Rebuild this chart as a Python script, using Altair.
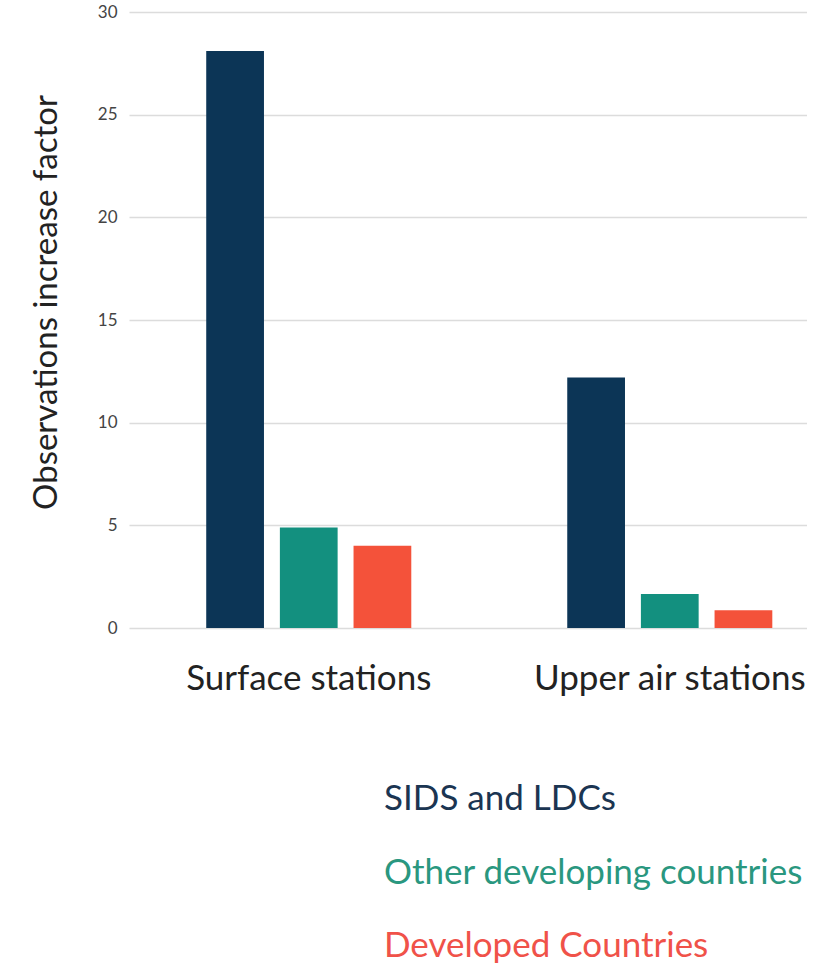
import altair as alt
import pandas as pd

# Categories and series
stations = ["Surface stations", "Upper air stations"]
groups = ["SIDS and LDCs", "Other developing countries", "Developed Countries"]
sids_ldcs = [28.1, 12.2]
other_developing = [4.9, 1.65]
developed = [4.0, 0.87]
y_ticks = [0, 5, 10, 15, 20, 25, 30]

bar_colors = ["#0c3556", "#13907f", "#f4523a"]
text_colors = ["#1b3552", "#2a977f", "#f05249"]

rows = []
for i, st in enumerate(stations):
    for g, vals in zip(groups, [sids_ldcs, other_developing, developed]):
        rows.append({"station": st, "group": g, "value": vals[i]})
df = pd.DataFrame(rows)
legend_df = pd.DataFrame({"group": groups})

FONT = "Lato"

bars = (
    alt.Chart(df)
    .mark_bar()
    .encode(
        x=alt.X(
            "station:N",
            sort=stations,
            title=None,
            scale=alt.Scale(paddingInner=0.432, paddingOuter=0.155, align=0.69),
            axis=alt.Axis(
                labelAngle=0,
                labelFontSize=35,
                labelFont=FONT,
                labelColor="#222222",
                labelPadding=33,
                labelLimit=0,
                domain=False,
                ticks=False,
                grid=False,
            ),
        ),
        xOffset=alt.XOffset(
            "group:N", sort=groups, scale=alt.Scale(paddingInner=0.216, paddingOuter=0)
        ),
        y=alt.Y(
            "value:Q",
            title="Observations increase factor",
            scale=alt.Scale(domain=[0, 30], nice=False),
            axis=alt.Axis(
                values=y_ticks,
                labelFontSize=17,
                labelFont=FONT,
                labelColor="#444444",
                labelPadding=12,
                titleFont=FONT,
                titleFontSize=33,
                titleFontWeight="normal",
                titleColor="#222222",
                titlePadding=34,
                titleY=290,
                domain=False,
                ticks=False,
                grid=True,
                gridColor="#dcdcdc",
                gridWidth=1.5,
            ),
        ),
        color=alt.Color(
            "group:N", scale=alt.Scale(domain=groups, range=bar_colors), legend=None
        ),
    )
    .properties(width=678, height=616)
)

legend_text = (
    alt.Chart(legend_df)
    .mark_text(align="left", baseline="middle", font=FONT, fontSize=35)
    .encode(
        y=alt.Y(
            "group:N",
            sort=groups,
            axis=None,
            scale=alt.Scale(type="point", padding=0),
        ),
        x=alt.value(255),
        text="group:N",
        color=alt.Color(
            "group:N", scale=alt.Scale(domain=groups, range=text_colors), legend=None
        ),
    )
    .properties(width=678, height=147)
)

chart = (
    alt.vconcat(bars, legend_text, spacing=86)
    .resolve_scale(color="independent")
    .properties(padding={"left": 30, "top": 3, "right": 0, "bottom": 0})
    .configure_view(stroke=None)
)

chart.save("out.html", embed_options={"renderer": "svg", "actions": False})
